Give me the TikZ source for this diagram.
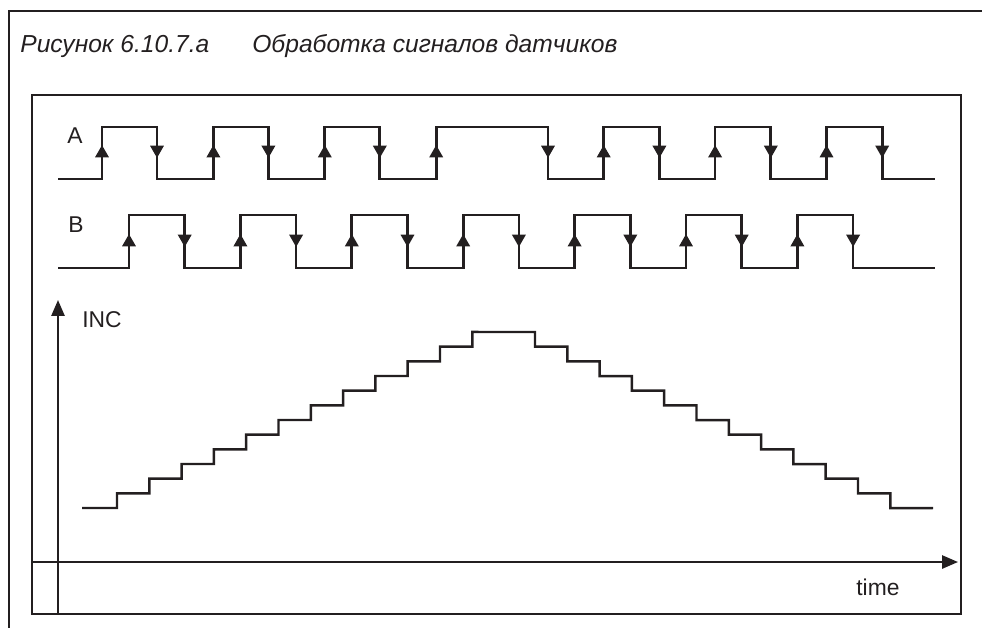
\documentclass[tikz,border=0pt]{standalone}
\usepackage{fontspec}
\setmainfont{Liberation Sans}
\setsansfont{Liberation Sans}
\usetikzlibrary{arrows.meta}
\definecolor{Ink}{HTML}{231F20}

\begin{document}
\begin{tikzpicture}[
  x=0.02cm, y=-0.02cm,
  font=\sffamily,
  frame/.style={draw=Ink, line width=1.6pt},
  wave/.style={draw=Ink, line width=1.5pt, line join=miter},
  stairs/.style={draw=Ink, line width=1.4pt},
  axis/.style={draw=Ink, line width=1.3pt, -{Triangle[length=9pt, width=7.4pt]}},
  edgetip/.style={draw=Ink, line width=1.5pt, -{Triangle[length=7pt, width=7.5pt]}},
  siglabel/.style={text=Ink, inner sep=0pt, anchor=base west, font=\sffamily\fontsize{13}{15}\selectfont},
  titletext/.style={text=Ink, inner sep=0pt, anchor=base west, font=\sffamily\itshape\fontsize{14}{17}\selectfont}
]
\useasboundingbox (0,0) rectangle (982,627);

% frames
\draw[frame] (995,11) -- (9,11) -- (9,640);
\draw[frame] (32,95) rectangle (961,614);

\node[titletext] (fignum) at (20,52) {Рисунок 6.10.7.а};
\node[titletext] (figname) at (252,52) {Обработка сигналов датчиков};

% signal A
\node[siglabel] (labA) at (67,143) {A};
\draw[wave] (58,179)
  \foreach \r/\f in {102/157, 213.4/268.4, 324.8/379.8, 436.2/548, 603.7/659.4, 715.1/770.8, 826.5/882.2}
  { -- (\r,179) -- (\r,127) -- (\f,127) -- (\f,179) } -- (935,179);
\foreach \r in {102, 213.4, 324.8, 436.2, 603.7, 715.1, 826.5}
  \draw[edgetip] (\r,179) -- (\r,145);
\foreach \f in {157, 268.4, 379.8, 548, 659.4, 770.8, 882.2}
  \draw[edgetip] (\f,127) -- (\f,158);

% signal B
\node[siglabel] (labB) at (68,232) {B};
\draw[wave] (58,268)
  \foreach \k in {0,...,6}
  { -- ({129+111.4*\k},268) -- ({129+111.4*\k},215) -- ({184.7+111.4*\k},215) -- ({184.7+111.4*\k},268) } -- (935,268);
\foreach \k in {0,...,6} {
  \draw[edgetip] ({129+111.4*\k},268) -- ({129+111.4*\k},234);
  \draw[edgetip] ({184.7+111.4*\k},215) -- ({184.7+111.4*\k},247);
}

% counter
\draw[axis] (58,614) -- (58,300);
\draw[axis] (32,562) -- (958,562);
\node[siglabel] (labInc) at (82,327) {INC};
\node[siglabel] (labTime) at (856,595) {time};

\draw[stairs] (82,508)
  \foreach \k in {0,...,11}
  { -- ({117+32.3*\k},{508-14.67*\k}) -- ({117+32.3*\k},{508-14.67*(\k+1)}) }
  \foreach \k in {0,...,11}
  { -- ({535+32.3*\k},{332+14.67*\k}) -- ({535+32.3*\k},{332+14.67*(\k+1)}) }
  -- (933,508);
\end{tikzpicture}
\end{document}
